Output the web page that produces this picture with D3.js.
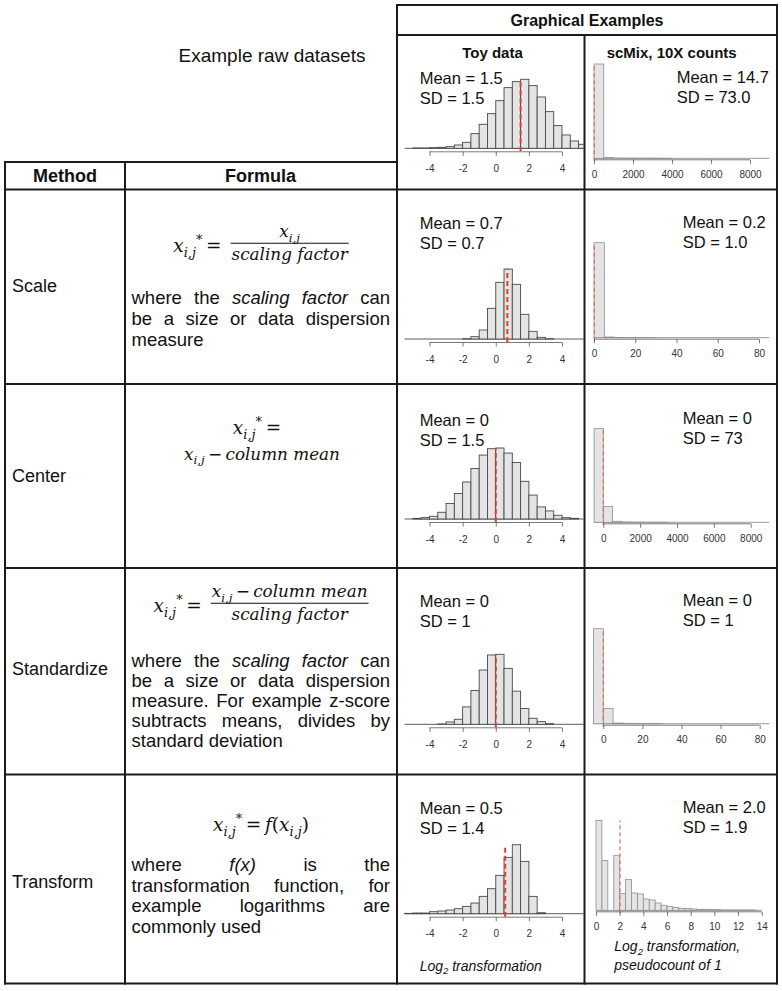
<!DOCTYPE html>
<html><head><meta charset="utf-8">
<script src="https://cdn.jsdelivr.net/npm/d3@7"></script>
<style>
body{margin:0;background:#fff}
svg text{fill:#111}
</style></head>
<body><svg id="c" width="782" height="991" style="font-family:'Liberation Sans',Arial,Helvetica,sans-serif"></svg>
<script>
// ---------------- DATA ----------------
const methods = ["Scale", "Center", "Standardize", "Transform"];
const panelTitles = ["Toy data", "scMix, 10X counts"];

// toy data histograms (bin width 0.5), counts (relative units)
const toyBin = 0.5;
const toyStarts = [-5, -2, -5, -3.5, -5.5];
const toyRaw = [1, 1, 2, 3, 5, 10, 18, 44, 72, 104, 143, 182, 200, 207, 188, 154, 110, 68, 40, 22, 12];
const toyScale = [1, 7, 27, 92, 170, 210, 164, 74, 23, 5, 1];
const toyCenter = [2, 4, 8, 20, 46, 76, 110, 150, 190, 209, 211, 196, 168, 112, 71, 36, 24, 11, 4, 2];
const toyStandardize = [1, 7, 15, 52, 101, 162, 207, 209, 167, 99, 47, 18, 8, 2];
const toyTransform = [1, 2, 2, 6, 8, 11, 15, 22, 32, 52, 75, 115, 169, 207, 157, 52, 3];
const toyMeans = [1.5, 0.7, 0, 0, 0.57];
const toyMeanLabels = ["1.5", "0.7", "0", "0", "0.5"];
const toySDLabels = ["1.5", "0.7", "1.5", "1", "1.4"];
const toyTicks = [-4, -2, 0, 2, 4];

// scMix histograms
const scBins = [500, 5, 500, 5, 0.5];
const scStarts = [0, 0, -500, -5, 0];
const scRaw = [283, 2, 0.6, 0.4, 0.3, 0.2, 0.2, 0.1];
const scScale = [285, 2, 0.5, 0.3, 0.2, 0.1];
const scCenter = [281, 48, 3, 1, 0.5, 0.3, 0.2, 0.1];
const scStandardize = [285, 46, 2, 1, 0.5, 0.3, 0.2];
const scTransform = [269, 149, 0, 165, 50, 92, 52, 49, 34, 31, 22, 15, 11, 8, 6, 5, 4, 3, 3, 2, 2, 1, 1, 1, 1, 1, 1];
const scMeans = [14.7, 0.2, 0, 0, 2.03];
const scMeanLabels = ["14.7", "0.2", "0", "0", "2.0"];
const scSDLabels = ["73.0", "1.0", "73", "1", "1.9"];
const scTicksBig = [0, 2000, 4000, 6000, 8000];
const scTicksSmall = [0, 20, 40, 60, 80];
const scTicksLog = [0, 2, 4, 6, 8, 10, 12, 14];

const toySeries = [toyRaw, toyScale, toyCenter, toyStandardize, toyTransform];
const scSeries = [scRaw, scScale, scCenter, scStandardize, scTransform];
const scTicks = [scTicksBig, scTicksSmall, scTicksBig, scTicksSmall, scTicksLog];

// ---------------- LAYOUT ----------------
const svg = d3.select("#c");
const ink = "#1b1b1b";
const X = {x0: 5, div: 125, mid: 397, div2: 584.5, x1: 777};
const Y = {top: 5, head: 35, tab: 162, rows: [189.5, 384, 568, 774.5, 983.5]};

const toyRange = [429.5, 562];
const toyBase = [148.3, 339, 519, 724.3, 913.7];
const toyH = [69, 70, 71, 70, 69];
const toyExtent = [-5.5, 5.6];
const scDomains = [[0, 8000], [0, 80], [0, 8000], [0, 80], [0, 14]];
const scRanges = [[594, 750], [594, 759], [603.3, 750.7], [603.3, 759.7], [596, 761.7]];
const scExtent = [[0, 9000], [0, 85], [-500, 9000], [-5, 85], [0, 14]];
const scBase = [158.3, 337.7, 522.3, 723.7, 910.3];
const scH = [94.3, 95, 93.7, 95, 89.7];
const textY = [84, 229.3, 425.5, 607, 814];
const scTextX = [676.7, 682.7, 682.7, 682.7, 682.7];

const defs = svg.append("defs");
const cellTop = [Y.head, ...Y.rows.slice(0, 4)];
const cellBot = Y.rows;

function clipFor(id, x0, x1, r) {
  defs.append("clipPath").attr("id", id).append("rect")
    .attr("x", x0).attr("y", cellTop[r] + 1).attr("width", x1 - x0).attr("height", cellBot[r] - cellTop[r] - 2);
  return "url(#" + id + ")";
}

function drawHist(opt) {
  const g = svg.append("g").attr("clip-path", clipFor(opt.id, opt.cx0, opt.cx1, opt.row));
  const x = d3.scaleLinear().domain(opt.domain).range(opt.range);
  const maxC = d3.max(opt.counts);
  const y = d3.scaleLinear().domain([0, maxC]).range([opt.base, opt.base - opt.h]);
  g.append("line").attr("x1", x(opt.extent[0])).attr("x2", x(opt.extent[1]))
    .attr("y1", y(0)).attr("y2", y(0)).attr("stroke", opt.stroke).attr("stroke-width", 0.9);
  const bins = opt.counts.map((c, i) => ({x0: opt.start + i * opt.bw, x1: opt.start + (i + 1) * opt.bw, c}));
  g.selectAll("rect.bar").data(bins).join("rect").attr("class", "bar")
    .attr("x", d => x(d.x0)).attr("width", d => x(d.x1) - x(d.x0))
    .attr("y", d => y(d.c)).attr("height", d => y(0) - y(d.c))
    .attr("fill", "#e4e4e4").attr("stroke", opt.stroke).attr("stroke-width", opt.sw);
  g.append("line").attr("x1", x(opt.mean)).attr("x2", x(opt.mean))
    .attr("y1", y(0) + 3).attr("y2", y(maxC))
    .attr("stroke", opt.red).attr("stroke-width", opt.rw).attr("stroke-dasharray", opt.dash);
  const ay = y(0) + opt.axOff;
  const ax = g.append("g").attr("transform", `translate(0,${ay})`)
    .call(d3.axisBottom(x).tickValues(opt.ticks).tickSize(4).tickPadding(opt.pad).tickFormat(d => d));
  ax.attr("font-family", null);
  ax.select(".domain").attr("stroke", "#555").attr("stroke-width", 0.8).attr("d", `M${x(opt.ticks[0])},0H${x(opt.ticks[opt.ticks.length - 1])}`);
  ax.selectAll(".tick line").attr("stroke", "#555").attr("stroke-width", 0.8);
  ax.selectAll(".tick text").attr("font-size", 10).style("fill", "#333");
  const tg = svg.append("g").attr("font-size", 16.5);
  tg.append("text").attr("x", opt.tx).attr("y", opt.ty).text("Mean = " + opt.meanLabel);
  tg.append("text").attr("x", opt.tx).attr("y", opt.ty + 20).text("SD = " + opt.sdLabel);
}

for (let r = 0; r < 5; r++) {
  drawHist({
    id: "ct" + r, cx0: X.mid + 1, cx1: X.div2 - 1, row: r,
    domain: [-4, 4], range: toyRange, extent: toyExtent,
    counts: toySeries[r], start: toyStarts[r], bw: toyBin,
    base: toyBase[r], h: toyH[r], stroke: "#4a4a4a", sw: 0.9,
    mean: toyMeans[r], red: "#e53a2f", rw: 2, dash: "5,3",
    ticks: toyTicks, axOff: 3.5, pad: 9,
    tx: 419.7, ty: textY[r], meanLabel: toyMeanLabels[r], sdLabel: toySDLabels[r]
  });
  drawHist({
    id: "cs" + r, cx0: X.div2 + 1, cx1: X.x1 - 1, row: r,
    domain: scDomains[r], range: scRanges[r], extent: scExtent[r],
    counts: scSeries[r], start: scStarts[r], bw: scBins[r],
    base: scBase[r], h: scH[r], stroke: "#8e8e8e", sw: 0.8,
    mean: scMeans[r], red: "#e8675f", rw: 1.2, dash: "4,3",
    ticks: scTicks[r], axOff: 1.5, pad: 7,
    tx: scTextX[r], ty: textY[r] - 1.5, meanLabel: scMeanLabels[r], sdLabel: scSDLabels[r]
  });
}

// ---------------- TABLE LINES ----------------
const lines = [
  [X.mid, Y.top, X.x1, Y.top], [X.mid, Y.head, X.x1, Y.head],
  [X.x0, Y.tab, X.mid, Y.tab],
  [X.mid, Y.top, X.mid, Y.rows[4]], [X.x1, Y.top, X.x1, Y.rows[4]],
  [X.div2, Y.head, X.div2, Y.rows[4]],
  [X.x0, Y.tab, X.x0, Y.rows[4]], [X.div, Y.tab, X.div, Y.rows[4]],
  ...Y.rows.map(y => [X.x0, y, X.x1, y])
];
svg.append("g").selectAll("line").data(lines).join("line")
  .attr("x1", d => d[0]).attr("y1", d => d[1]).attr("x2", d => d[2]).attr("y2", d => d[3])
  .attr("stroke", ink).attr("stroke-width", 2).attr("stroke-linecap", "square");

// ---------------- HEADERS ----------------
svg.append("text").attr("x", 587).attr("y", 26).attr("text-anchor", "middle")
  .attr("font-weight", "bold").attr("font-size", 16).text("Graphical Examples");
svg.append("text").attr("x", 492.5).attr("y", 58.3).attr("text-anchor", "middle")
  .attr("font-weight", "bold").attr("font-size", 15).text(panelTitles[0]);
svg.append("text").attr("x", 671.7).attr("y", 57.7).attr("text-anchor", "middle")
  .attr("font-weight", "bold").attr("font-size", 15).text(panelTitles[1]);
svg.append("text").attr("x", 272).attr("y", 62).attr("text-anchor", "middle")
  .attr("font-size", 19).text("Example raw datasets");
svg.append("text").attr("x", 65).attr("y", 182).attr("text-anchor", "middle")
  .attr("font-weight", "bold").attr("font-size", 18).text("Method");
svg.append("text").attr("x", 260.5).attr("y", 182).attr("text-anchor", "middle")
  .attr("font-weight", "bold").attr("font-size", 18).text("Formula");

const labelY = [292, 482, 675, 888];
methods.forEach((m, i) => svg.append("text").attr("x", 12).attr("y", labelY[i]).attr("font-size", 18).text(m));

// ---------------- FORMULAS ----------------
const mathFont = "'DejaVu Serif',serif";
function mathText(g, x, y, parts, fs) {
  const t = g.append("text").attr("x", x).attr("y", y).style("font-family", mathFont)
    .attr("font-size", fs).attr("font-style", "italic");
  let shift = 0;
  parts.forEach(p => {
    const kind = p[1] || "n";
    const target = kind === "sub" ? 0.25 * fs : kind === "sup" ? -0.45 * fs : 0;
    const sp = t.append("tspan").attr("dy", target - shift).text(p[0]);
    if (kind === "sub" || kind === "sup") sp.attr("font-size", fs * 0.7);
    if (kind === "up") sp.attr("font-style", "normal");
    shift = target;
  });
  return t;
}
const xij = [["x"], ["i,j", "sub"]];
const xijStar = [["x"], ["i,j", "sub"], ["*", "sup"], ["\u2009=", "up"]];
const cx = (X.div + X.mid) / 2;
const mfs = 16.8;

function fractionFormula(lineY, numParts, denParts) {
  const g = svg.append("g");
  const lhs = mathText(g, 0, lineY + 9, xijStar, mfs * 1.1);
  const wl = lhs.node().getComputedTextLength();
  const num = mathText(g, 0, lineY - 6, numParts, mfs).attr("text-anchor", "middle");
  const den = mathText(g, 0, lineY + 17, denParts, mfs).attr("text-anchor", "middle");
  const wf = Math.max(num.node().getComputedTextLength(), den.node().getComputedTextLength()) + 2;
  const gap = 9;
  const total = wl + gap + wf;
  const left = cx - total / 2;
  lhs.attr("x", left);
  const fc = left + wl + gap + wf / 2;
  num.attr("x", fc); den.attr("x", fc);
  g.append("line").attr("x1", left + wl + gap).attr("x2", left + wl + gap + wf)
    .attr("y1", lineY).attr("y2", lineY).attr("stroke", "#111").attr("stroke-width", 1.1);
}
fractionFormula(243.3, xij, [["scaling factor"]]);
fractionFormula(603.3, [...xij, ["\u2009\u2212\u2009", "up"], ["column mean"]], [["scaling factor"]]);

{
  const g = svg.append("g");
  mathText(g, cx - 4, 434, xijStar, mfs * 1.1).attr("text-anchor", "middle");
  mathText(g, cx + 1, 460, [...xij, ["\u2009\u2212\u2009", "up"], ["column mean"]], mfs).attr("text-anchor", "middle");
  mathText(g, cx, 831, [...xijStar, ["\u2009f", "n"], ["(", "up"], ["x"], ["i,j", "sub"], [")", "up"]], mfs * 1.1).attr("text-anchor", "middle");
}

// ---------------- DESCRIPTIONS (justified) ----------------
function justify(lines, y0, lh) {
  const x0 = 131.5, x1 = 390, fs = 18.5;
  const g = svg.append("g").attr("font-size", fs);
  lines.forEach((ln, i) => {
    const words = ln.split(" ");
    const y = y0 + i * lh;
    const nodes = words.map(w => {
      const it = w.startsWith("_");
      return g.append("text").attr("y", y).attr("font-style", it ? "italic" : null).text(it ? w.slice(1) : w);
    });
    const ws = nodes.map(n => n.node().getComputedTextLength());
    const last = i === lines.length - 1;
    const gap = (last || words.length < 2) ? fs * 0.278 : (x1 - x0 - d3.sum(ws)) / (words.length - 1);
    let x = x0;
    nodes.forEach((n, k) => { n.attr("x", x); x += ws[k] + gap; });
  });
}
justify(["where the _scaling _factor can", "be a size or data dispersion", "measure"], 304.3, 20.7);
justify(["where the _scaling _factor can", "be a size or data dispersion", "measure. For example z-score",
  "subtracts means, divides by", "standard deviation"], 666.7, 20);
justify(["where _f(x) is the", "transformation function, for", "example logarithms are", "commonly used"], 871, 20.5);

// ---------------- FOOTNOTES ----------------
function logNote(x, y, rest) {
  const t = svg.append("text").attr("x", x).attr("y", y).attr("font-size", 14).attr("font-style", "italic");
  t.append("tspan").text("Log");
  t.append("tspan").attr("dy", 3.5).attr("font-size", 9.5).text("2");
  t.append("tspan").attr("dy", -3.5).text(rest);
}
logNote(419.7, 970.5, " transformation");
logNote(614.3, 951.3, " transformation,");
svg.append("text").attr("x", 614.3).attr("y", 969.7).attr("font-size", 14).attr("font-style", "italic").text("pseudocount of 1");
</script>
</body></html>
